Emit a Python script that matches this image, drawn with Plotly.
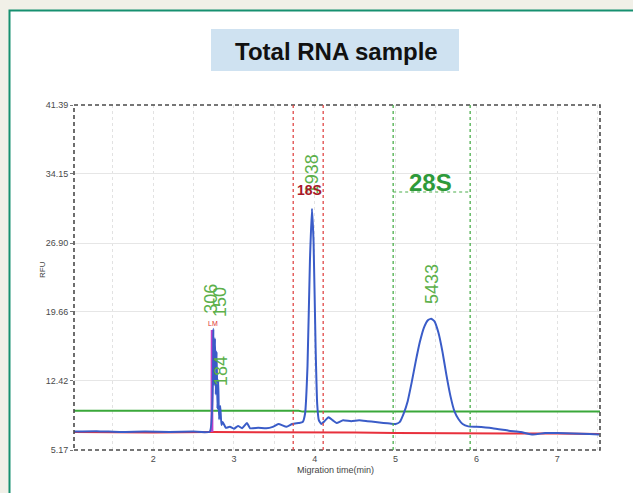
import plotly.graph_objects as go

# ---- data ----
blue_x = [1.02, 1.3, 1.6, 1.9, 2.2, 2.5, 2.70, 2.745, 2.755, 2.765, 2.775, 2.785, 2.795, 2.805, 2.815, 2.83, 2.845, 2.86, 2.9, 2.95,
          3.0, 3.05, 3.1, 3.16, 3.2, 3.3, 3.4, 3.48, 3.55, 3.65, 3.72, 3.8, 3.85, 3.88, 3.91, 3.94, 3.965, 3.985, 4.01, 4.03, 4.05,
          4.08, 4.12, 4.17, 4.22, 4.27, 4.35, 4.45, 4.55, 4.65, 4.75, 4.85, 4.93, 5.0, 5.05, 5.1, 5.15, 5.2, 5.25, 5.3, 5.35,
          5.4, 5.44, 5.48, 5.53, 5.58, 5.63, 5.68, 5.73, 5.78, 5.83, 5.9, 6.0, 6.2, 6.4, 6.55, 6.7, 6.85, 7.0, 7.2, 7.4, 7.52]
blue_y = [7.1, 7.15, 7.05, 7.1, 7.05, 7.1, 7.1, 17.9, 12.0, 16.9, 11.0, 15.5, 9.5, 12.5, 8.4, 9.8, 7.8, 8.1, 7.5, 7.6,
          7.4, 7.7, 7.45, 8.0, 7.45, 7.5, 7.45, 7.6, 7.9, 7.6, 7.9, 8.0, 8.1, 9.0, 14.0, 25.0, 30.5, 27.0, 16.0, 10.0, 8.3,
          7.9, 8.2, 8.6, 8.3, 8.0, 8.3, 8.2, 8.3, 8.2, 8.1, 8.0, 7.95, 7.9, 8.1, 9.0, 10.3, 12.3, 14.5, 16.5, 18.0,
          18.8, 18.95, 18.7, 17.5, 15.5, 13.0, 10.8, 9.2, 8.4, 7.9, 7.65, 7.6, 7.45, 7.2, 7.05, 6.8, 6.95, 6.95, 6.9, 6.85, 6.8]

red_x = [1.02, 2.0, 2.72, 3.5, 4.5, 5.0, 5.9, 6.5, 7.0, 7.52]
red_y = [7.05, 7.0, 7.05, 7.05, 7.0, 6.95, 6.95, 6.9, 6.9, 6.85]

lm_x = [2.718, 2.722, 2.732, 2.736]
lm_y = [7.05, 17.7, 17.7, 7.05]

green_x = [1.02, 3.8, 3.85, 7.53]
green_y = [9.3, 9.3, 9.2, 9.2]

y_ticks = [5.17, 12.42, 19.66, 26.90, 34.15, 41.39]
y_tick_text = ["5.17", "12.42", "19.66", "26.90", "34.15", "41.39"]
x_ticks = [2, 3, 4, 5, 6, 7]

peak_labels = [("306", 2.722, 21.0), ("150", 2.825, 20.7), ("184", 2.83, 13.5), ("1938", 3.975, 34.1), ("5433", 5.45, 22.6)]
region_18s = [3.733, 4.104]
region_28s = [4.97, 5.923]

W, H = 633, 493
L, R, T, B = 74, 33, 105, 43
PW, PH = W - L - R, H - T - B


def px(x):
    return (x - L) / PW


def py(y):
    return (H - B - y) / PH


FONT = "Liberation Sans, Arial"

fig = go.Figure()
fig.add_trace(go.Scatter(x=green_x, y=green_y, mode="lines", line=dict(color="#3aa83a", width=2), showlegend=False))
fig.add_trace(go.Scatter(x=red_x, y=red_y, mode="lines", line=dict(color="#e8303c", width=2), showlegend=False))
fig.add_trace(go.Scatter(x=lm_x, y=lm_y, mode="lines", line=dict(color="#c040c8", width=1.5), showlegend=False))
fig.add_trace(go.Scatter(x=blue_x, y=blue_y, mode="lines", line=dict(color="#3a5cc8", width=2, shape="spline", smoothing=0.4),
                         showlegend=False))

shapes = []
shapes.append(dict(type="rect", xref="paper", yref="paper", x0=px(9.5), x1=px(660), y0=py(520), y1=py(10.5),
                   fillcolor="white", line=dict(color="#169070", width=2), layer="below"))
shapes.append(dict(type="rect", xref="paper", yref="paper", x0=px(211), x1=px(459), y0=py(71), y1=py(29),
                   fillcolor="#cfe2f1", line=dict(width=0), layer="below"))
shapes.append(dict(type="rect", xref="paper", yref="paper", x0=0, x1=1, y0=0, y1=1,
                   line=dict(color="#4a4a4a", width=1.6, dash="4px,3px"), layer="above"))
for xv in region_18s:
    shapes.append(dict(type="line", xref="x", yref="paper", x0=xv, x1=xv, y0=0, y1=1,
                       line=dict(color="#e04848", width=1.3, dash="3px,3px")))
for xv in region_28s:
    shapes.append(dict(type="line", xref="x", yref="paper", x0=xv, x1=xv, y0=0, y1=1,
                       line=dict(color="#4cae4c", width=1.3, dash="3px,3px")))
shapes.append(dict(type="line", xref="x", yref="paper", x0=region_28s[0], x1=region_28s[1], y0=py(192), y1=py(192),
                   line=dict(color="#4cae4c", width=1.2, dash="dot")))

ann = []
C = dict(showarrow=False, xanchor="center", yanchor="middle")
ann.append(dict(xref="paper", yref="paper", x=px(336), y=py(51), text="<b>Total RNA sample</b>",
                font=dict(family=FONT, size=24, color="#111111"), **C))
ann.append(dict(xref="paper", yref="paper", x=px(42), y=py(270), text="RFU", textangle=-90,
                font=dict(family=FONT, size=8, color="#444444"), **C))
ann.append(dict(xref="paper", yref="paper", x=px(335), y=py(470), text="Migration time(min)",
                font=dict(family=FONT, size=9, color="#444444"), **C))
ann.append(dict(x=2.745, y=18.4, text="LM", font=dict(family=FONT, size=7, color="#e03030"), **C))
for txt, xv, yv in peak_labels:
    ann.append(dict(x=xv, y=yv, text=txt, textangle=-90, font=dict(family=FONT, size=18, color="#5cb04a"), **C))
ann.append(dict(x=3.94, y=32.5, text="<b>18S</b>", font=dict(family=FONT, size=14, color="#a81828"), **C))
ann.append(dict(x=5.43, y=33.3, text="<b>28S</b>", font=dict(family=FONT, size=24, color="#2e9a3a"), **C))

fig.update_layout(
    width=W, height=H,
    margin=dict(l=L, r=R, t=T, b=B, pad=0),
    paper_bgcolor="#f1f0e8", plot_bgcolor="white",
    shapes=shapes, annotations=ann,
    xaxis=dict(range=[1.02, 7.53], tickvals=x_ticks, showgrid=True, gridcolor="#e2e2e2", griddash="dot",
               minor=dict(dtick=0.5, tick0=0, showgrid=True, gridcolor="#e2e2e2", griddash="dot"),
               zeroline=False, showline=False, ticks="", ticklabelstandoff=2,
               tickfont=dict(family=FONT, size=9, color="#4a4a4a")),
    yaxis=dict(range=[5.17, 41.39], tickvals=y_ticks, ticktext=y_tick_text, showgrid=True, gridcolor="#e6e6e6",
               zeroline=False, showline=False, ticks="outside", ticklen=3, tickcolor="#777777",
               tickfont=dict(family=FONT, size=9, color="#4a4a4a")),
)

fig.write_html("out.html", config={"displayModeBar": False},
               post_script="document.body.style.margin='0';document.body.style.background='#f1f0e8';")
